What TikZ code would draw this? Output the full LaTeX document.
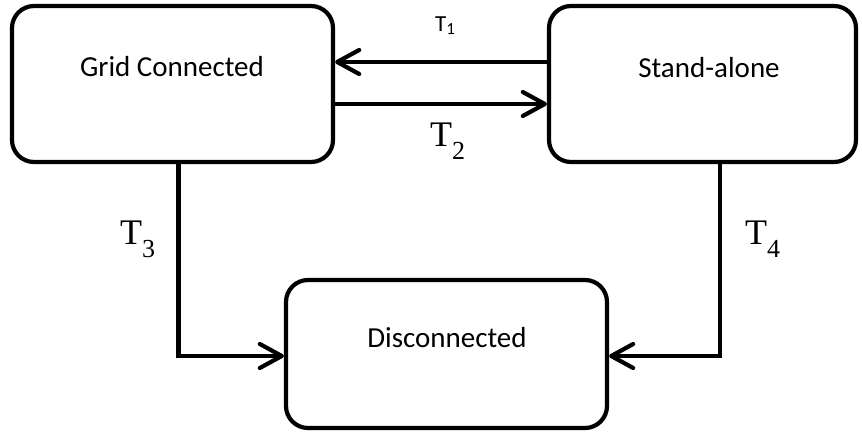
\documentclass[tikz,border=0pt]{standalone}
\usepackage{fontspec}
\setmainfont{Carlito}
\newfontfamily\tlabel{Liberation Serif}
\usetikzlibrary{arrows.meta}

\tikzset{
  statebox/.style={draw, line width=4.2pt, rounded corners=22pt, inner sep=0pt},
  statetext/.style={anchor=base, inner sep=0pt, font=\fontsize{29}{32}\selectfont},
  trans/.style={line width=4.2pt, -{Straight Barb[length=22pt, width=24pt, round]}},
  tserif/.style={anchor=base west, inner sep=0pt},
}
\newcommand{\tsub}[1]{{\tlabel\fontsize{36}{40}\selectfont T\raisebox{-13pt}{\fontsize{26}{28}\selectfont #1}}}

\begin{document}
\begin{tikzpicture}[x=1pt, y=-1pt]
  \useasboundingbox (0,0) rectangle (862,435);

  % state boxes
  \node[statebox, minimum width=321pt, minimum height=156pt] (gc) at (172.5,84) {};
  \node[statebox, minimum width=307pt, minimum height=156pt] (sa) at (702.5,84) {};
  \node[statebox, minimum width=321pt, minimum height=148pt] (dc) at (446.5,354) {};

  % state names
  \node[statetext] (gctext) at (172,77) {Grid Connected};
  \node[statetext] (satext) at (709,78) {Stand-alone};
  \node[statetext] (dctext) at (447,348) {Disconnected};

  % transitions
  \draw[trans] ([yshift=22pt]sa.west) -- ([yshift=22pt]gc.east);
  \draw[trans] ([yshift=-20pt]gc.east) -- ([yshift=-20pt]sa.west);
  \draw[trans] ([xshift=6pt]gc.south) |- ([yshift=-2pt]dc.west);
  \draw[trans] ([xshift=17.5pt]sa.south) |- ([yshift=-2pt]dc.east);

  % transition labels
  \node[tserif] (t1) at (435,32) {\fontsize{23}{26}\selectfont T\raisebox{-3pt}{\fontsize{17}{20}\selectfont 1}};
  \node[tserif] (t2) at (430,147) {\tsub{2}};
  \node[tserif] (t3) at (120,245) {\tsub{3}};
  \node[tserif] (t4) at (745,245) {\tsub{4}};
\end{tikzpicture}
\end{document}
